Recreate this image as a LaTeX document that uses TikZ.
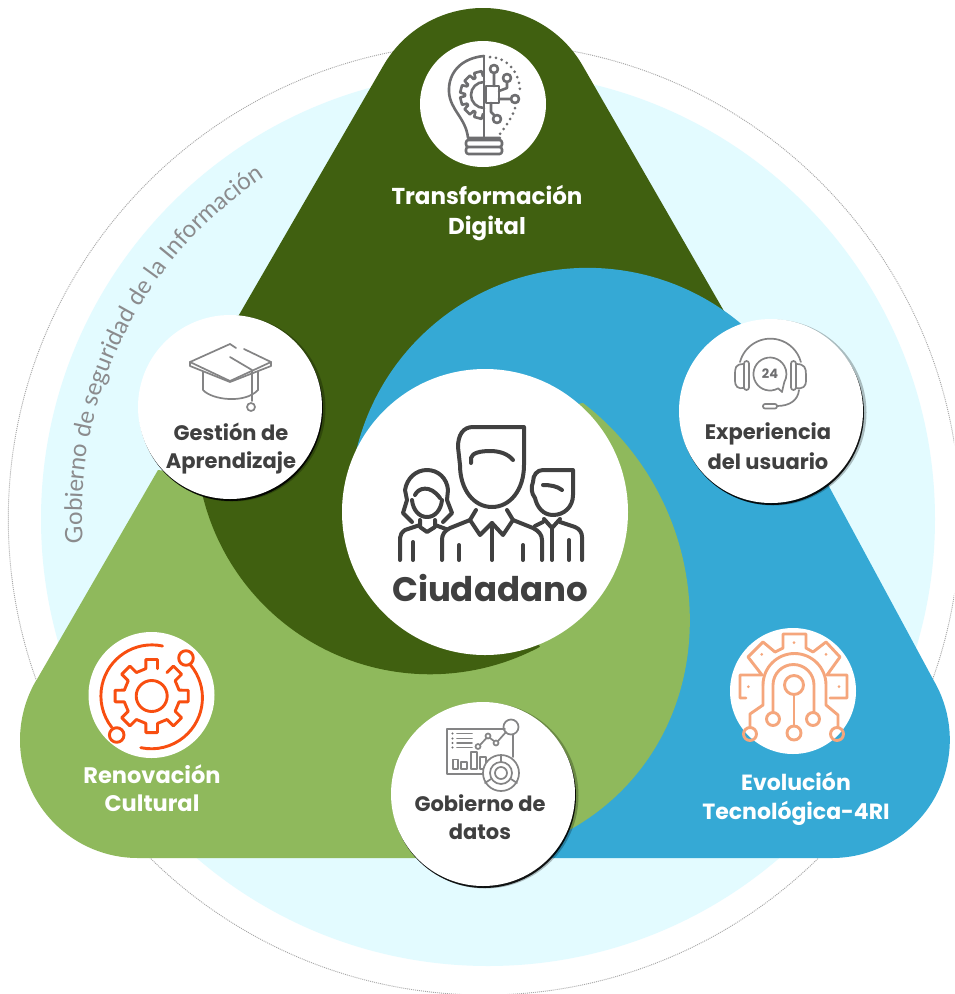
\documentclass[tikz,border=0pt]{standalone}
\usepackage{fontspec}
\usetikzlibrary{decorations.text}
\newfontfamily\popf{Poppins}
\newfontfamily\ringf{Lato}
\definecolor{cyanbg}{HTML}{E3FBFF}
\definecolor{darkg}{HTML}{406010}
\definecolor{lightg}{HTML}{8FB95C}
\definecolor{blueb}{HTML}{35A9D5}
\definecolor{inkd}{HTML}{404040}
\definecolor{inkg}{HTML}{6E6E70}
\definecolor{orangei}{HTML}{F84E10}
\definecolor{peach}{HTML}{F5A67C}
\newcommand\gearteeth[7]{% style,cx,cy,r1,r2,angles,start
  \draw[#1] ({#2+#4*cos(#7)},{#3+#4*sin(#7)})
    foreach \a in {#6} {
      -- ({#2+#4*cos(\a-12)},{#3+#4*sin(\a-12)})
      -- ({#2+#5*cos(\a-9)},{#3+#5*sin(\a-9)})
      -- ({#2+#5*cos(\a+9)},{#3+#5*sin(\a+9)})
      -- ({#2+#4*cos(\a+12)},{#3+#4*sin(\a+12)})
    };}
\tikzset{
  whitedisc/.style={circle,fill=white,inner sep=0pt,minimum size=#1},
  shade1/.style={fill=black,opacity=.9},
  shade2/.style={fill=black,opacity=.25},
  lab/.style={font=\popf\bfseries\fontsize{#1}{#1}\selectfont,align=center,inner sep=0pt},
  ico1/.style={draw=inkd,line width=4pt,line cap=round,line join=round},
  icog/.style={draw=inkg,line width=2.6pt,line cap=round,line join=round},
  icot/.style={draw=inkg!85,line width=1.7pt,line cap=round,line join=round},
  icoo/.style={draw=orangei,line width=2.9pt,line cap=round,line join=round},
  icop/.style={draw=peach,line width=2.9pt,line cap=round,line join=round},
}
\begin{document}
\begin{tikzpicture}[x=1pt,y=1pt]
\useasboundingbox (0,0) rectangle (954,-994);
\begin{scope}
\clip (0,0) rectangle (954,-994);
\fill[white] (0,0) rectangle (954,-994);
\draw[gray!70,line width=.9pt,dash pattern=on 1pt off 1pt] (484.3,-519) circle (476);
\end{scope}
\fill[cyanbg] (488,-519) circle (447);
% dark green triangle, full
\fill[darkg] (383.4,-65.5) arc[start angle=150,end angle=30,radius=115]
  -- (732,-325) -- (600,-450) -- (485,-512) -- (352,-467) -- (300,-480) -- (212,-410) -- (210,-365) -- cycle;
% blue swirl
\fill[blueb] (353,-467) arc[start angle=170.6,end angle=49.8,radius=238]
  -- (934,-681) arc[start angle=30,end angle=-90,radius=118]
  -- (450,-858) -- (400,-600) -- cycle;
% light green swirl
\fill[lightg] (36,-681) -- (158,-470) -- (400,-500) -- (485,-420) -- (583,-403)
  arc[start angle=52.4,end angle=0,radius=274]
  .. controls (690,-715) and (640,-795) .. (560,-835)
  -- (520,-858) -- (138,-858) arc[start angle=270,end angle=150,radius=118] -- cycle;
% dark green swirl over the light green
\fill[darkg] (352,-467) -- (210,-365) -- (197.9,-470)
  arc[start angle=187.3,end angle=298,radius=234] -- (485,-512) -- cycle;
% shadows
\foreach \cx/\cy in {230/-407,771/-411,483/-794}{
  \fill[shade2] (\cx+2.5,\cy-1.5) circle (93);
  \fill[shade1] (\cx+1,\cy-2) circle (92);
}
% discs
\node[whitedisc=286pt] (ciudadano) at (485,-512) {};
\node[whitedisc=184pt] (gestion) at (230,-407) {};
\node[whitedisc=184pt] (experiencia) at (771,-411) {};
\node[whitedisc=184pt] (gobierno) at (483,-794) {};
\node[whitedisc=126pt] (transf) at (483,-104) {};
\node[whitedisc=126pt] (renov) at (151.5,-695) {};
\node[whitedisc=126pt] (evol) at (793,-691) {};
% labels
\node[lab=23,text=white] (ltransf) at (487,-213) {Transformación\\[7pt]Digital};
\node[lab=21,text=inkd] (lgestion) at (231,-449) {Gestión de\\[7pt]Aprendizaje};
\node[lab=21,text=inkd] (lexper) at (768,-446) {Experiencia\\[6pt]del usuario};
\node[lab=21,text=inkd] (lgob) at (480,-817) {Gobierno de\\[7pt]datos};
\node[lab=22.5,text=white] (lrenov) at (152,-788) {Renovación\\[5.5pt]Cultural};
\node[lab=22,text=white] (levol) at (796,-799) {Evolución\\[7pt]Tecnológica-4RI};
\node[lab=34,text=inkd] (lciud) at (490,-588) {Ciudadano};
% ring text
\path[decorate,decoration={text along path,text align={left indent=0pt},
  text={|\ringf\fontsize{24}{24}\selectfont\color{inkg!80}|Gobierno de seguridad de la Información}}]
  (485,-515) ++(184:403) arc[start angle=184,end angle=118,radius=403];
% citizens icon
\draw[ico1] (473,-427) -- (524,-427) -- (524,-465) .. controls (524,-490) and (510,-507) .. (492,-507)
  .. controls (474,-507) and (460,-490) .. (460,-465) -- (458,-447) .. controls (458,-435) and (463,-427) .. (473,-427);
\draw[ico1] (471,-463) -- (471,-458) .. controls (472,-453) and (480,-451) .. (490,-451) .. controls (500,-451) and (508,-454) .. (513,-460);
\draw[ico1] (476,-510) -- (470,-520) -- (480,-535) -- (492,-523) -- (503,-535) -- (513,-520) -- (507,-510);
\draw[ico1] (492,-523) -- (492,-560);
\draw[ico1] (470,-520) -- (450,-528) .. controls (444,-531) and (442,-535) .. (442,-540) -- (442,-560);
\draw[ico1] (513,-520) -- (533,-528) .. controls (539,-531) and (542,-535) .. (542,-540) -- (542,-560);
\draw[ico1] (459,-545) -- (459,-560) (523,-545) -- (523,-560);
% woman
\draw[ico1] (412,-522) -- (403,-513) -- (407,-500) -- (405,-490) .. controls (407,-478) and (416,-470) .. (427,-470)
  .. controls (438,-470) and (447,-478) .. (448,-490) -- (447,-500) -- (452,-513) -- (443,-522);
\draw[ico1] (412,-500) .. controls (413,-510) and (419,-517) .. (427,-517) .. controls (435,-517) and (441,-510) .. (442,-500);
\draw[ico1] (415,-495) .. controls (418,-488) and (430,-484) .. (440,-498);
\draw[ico1] (420,-520) -- (420,-527) -- (427,-532) -- (435,-527) -- (435,-520);
\draw[ico1] (420,-525) -- (405,-530) .. controls (402,-532) and (400,-535) .. (400,-538) -- (400,-560);
\draw[ico1] (435,-525) -- (446,-529);
\draw[ico1] (413,-542) -- (413,-560);
% right man
\draw[ico1] (543,-470) -- (573,-470) -- (573,-495) .. controls (573,-507) and (564,-515) .. (553,-515)
  .. controls (543,-515) and (537,-507) .. (535,-498) .. controls (531,-493) and (531,-487) .. (533,-482)
  .. controls (533,-475) and (537,-470) .. (543,-470);
\draw[ico1] (543,-485) .. controls (550,-485) and (557,-486) .. (562,-490);
\draw[ico1] (544,-519) -- (552,-528) -- (560,-519);
\draw[ico1] (552,-528) -- (552,-560);
\draw[ico1] (560,-522) -- (575,-527) .. controls (580,-529) and (582,-533) .. (582,-537) -- (582,-560);
\draw[ico1] (543,-522) -- (535,-526);
\draw[ico1] (569,-540) -- (569,-560);
% bulb icon
\draw[icog] (484,-56) -- (484,-138);
\draw[icog] (484,-56) .. controls (462,-58) and (448,-72) .. (449,-92)
  .. controls (450,-110) and (466,-118) .. (468,-138) -- (500,-138);
\draw[icog,rounded corners=2.5pt] (466,-140) rectangle (502,-147) (466,-147) rectangle (502,-154);
\gearteeth{icog}{484}{-95}{19}{24}{105,135,165,195,225,255}{93}
\draw[icog] (484,-82) arc[start angle=90,end angle=270,radius=13];
\draw[icog] (486,-86) rectangle (499,-103);
\draw[icog] (494,-86) -- (494,-73) (494,-69) circle (4);
\draw[icog] (499,-91) -- (507,-88) -- (507,-82) (507,-78) circle (4);
\draw[icog] (499,-99) -- (511,-99) (515,-99) circle (4);
\draw[icog] (491,-103) -- (491,-112) -- (494,-115) (497,-119) circle (4);
\draw[icog,line width=3pt,dash pattern=on 0pt off 6pt] (490,-57) .. controls (510,-58) and (520,-75) .. (520,-92);
\draw[icog,line width=3pt,dash pattern=on 0pt off 6pt] (515,-108) .. controls (512,-118) and (506,-126) .. (500,-134);
% cap icon
\draw[icot] (230,-344) -- (190,-362) -- (230,-381) -- (271,-362) -- (244,-349);
\draw[icot] (236,-348) -- (230,-344);
\draw[icot] (190,-362) -- (190,-366) -- (230,-382) -- (271,-366) -- (271,-362);
\draw[icot] (230,-357) -- (252,-370) -- (252,-401);
\draw[icot] (251,-407) circle (4);
\draw[icot] (258,-372) -- (258,-390);
\draw[icot] (203,-372) -- (203,-390) .. controls (212,-400) and (245,-404) .. (258,-390);
% headset icon
\draw[icot] (740,-362) arc[start angle=165,end angle=15,radius=31.5];
\draw[icot,rounded corners=2.5pt] (744,-361) rectangle (749,-390);
\draw[icot,rounded corners=2.5pt] (791,-361) rectangle (796,-390);
\draw[icot] (744,-364) .. controls (735,-364) and (735,-368) .. (735,-375) -- (735,-380) .. controls (735,-387) and (738,-389) .. (744,-388);
\draw[icot] (796,-364) .. controls (805,-364) and (806,-368) .. (806,-375) -- (806,-380) .. controls (806,-387) and (803,-389) .. (796,-388);
\draw[icot] (778.2,-388.3) arc[start angle=-60,end angle=-390,radius=16.5] -- (782,-392) -- cycle;
\node[font=\popf\bfseries\fontsize{13}{13}\selectfont,text=inkg,inner sep=0pt] (h24) at (770,-374) {24};
\draw[icot] (799,-390) .. controls (798,-400) and (790,-406) .. (777,-406);
\draw[icot,rounded corners=2pt] (763,-404) rectangle (777,-408.5);
% data icon
\draw[icot] (505,-729) -- (447,-729) -- (447,-774) -- (485,-774);
\draw[icot] (513,-735) -- (513,-757);
\draw[icot] (511,-727) circle (7.5);
\foreach \yy in {-733.5,-738.5,-743,-747.5}{ \fill[inkg] (452.5,\yy) circle (1.1); \draw[icot] (457,\yy) -- (472,\yy); }
\draw[icot] (478,-746.5) circle (2.5) (488,-736) circle (2.5) (496,-743) circle (2.5);
\draw[icot] (480,-745) -- (486.5,-738) (490,-738) -- (494,-741) (498,-741) -- (506,-732);
\draw[icot] (453,-759.5) rectangle (458,-769);
\draw[icot] (461,-762) rectangle (467,-769);
\draw[icot] (471,-752) rectangle (477,-769);
\draw[icot] (480,-757) rectangle (486,-769);
\fill[white] (501,-773) circle (18);
\draw[icot] (501,-773) circle (18) (501,-773) circle (11) (501,-773) circle (6);
\draw[icot] (501,-755) -- (501,-762) (491,-779) -- (485,-783) (511,-779) -- (517,-783);
% renov icon
\gearteeth{icoo}{151.7}{-696}{28}{37}{90,135,180,225,270,315,360,405}{78}
\draw[icoo] (151.7,-696) circle (15.5);
\draw[icoo] (162.5,-646) arc[start angle=78,end angle=218,radius=51];
\draw[icoo] (116.7,-735) circle (7.3);
\draw[icoo] (186,-658) circle (7.3);
\draw[icoo] (190.5,-665) arc[start angle=40,end angle=-102,radius=51];
% evol icon
\draw[icop] (746,-698) -- (740,-698) -- (740,-675) -- (762,-675) -- (748,-657) -- (763,-642) -- (775,-652) -- (783,-648) -- (783,-634)
  -- (806,-634) -- (806,-648) -- (813,-652) -- (826,-642) -- (840,-657) -- (827,-675) -- (847,-675) -- (847,-698) -- (830,-698);
\draw[icop] (794,-685) circle (9.5) (794,-733) circle (7) (773,-719) circle (6.5) (813,-719) circle (6.5)
  (750,-734) circle (6.5) (837,-734) circle (6.5);
\draw[icop] (794,-694.5) -- (794,-726);
\draw[icop] (773,-712.5) -- (773,-685) arc[start angle=180,end angle=0,radius=20.5] -- (814,-712.5);
\draw[icop] (763,-685) arc[start angle=180,end angle=0,radius=31.5] -- (826,-705) -- (838,-715) -- (838,-727);
\draw[icop] (763,-685) -- (763,-705) -- (750,-714) -- (750,-727);
\foreach \px/\py in {748.3/-686.7,761.7/-654.3,794/-642.7,826/-654.3,839/-686.7}{ \fill[peach] (\px,\py) circle (1.5); }
\end{tikzpicture}
\end{document}
